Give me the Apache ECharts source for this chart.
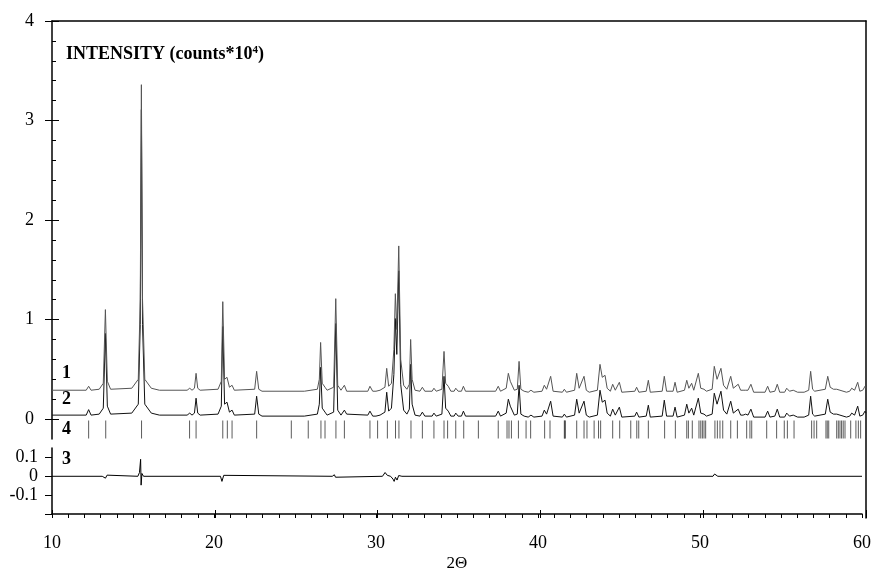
<!DOCTYPE html>
<html>
<head>
<meta charset="utf-8">
<script src="https://cdn.jsdelivr.net/npm/echarts@6/dist/echarts.min.js"></script>
<style>
  html, body { margin: 0; padding: 0; background: #fff; }
  #chart { width: 874px; height: 573px; }
</style>
</head>
<body>
<div id="chart"></div>
<script>
var obsPts = [
  [10, 0.29], [12.1, 0.29], [12.25, 0.33], [12.4, 0.29],
  [12.9, 0.30], [13.15, 0.36], [13.28, 1.10], [13.4, 0.38], [13.6, 0.30],
  [14.9, 0.31], [15.3, 0.40], [15.42, 1.2], [15.49, 3.36], [15.56, 1.2], [15.7, 0.40], [16.1, 0.31],
  [16.6, 0.29], [18.3, 0.29], [18.46, 0.31], [18.6, 0.29], [18.75, 0.31], [18.85, 0.46], [18.95, 0.31], [19.1, 0.29],
  [20.2, 0.30], [20.4, 0.38], [20.49, 1.18], [20.6, 0.40], [20.75, 0.42], [20.9, 0.32], [21.06, 0.34], [21.2, 0.29],
  [22.45, 0.30], [22.57, 0.48], [22.7, 0.30], [22.9, 0.28],
  [25.5, 0.28], [26.3, 0.30], [26.42, 0.40], [26.5, 0.77], [26.6, 0.36], [26.77, 0.32], [26.9, 0.29],
  [27.3, 0.32], [27.43, 1.21], [27.55, 0.34], [27.75, 0.29], [27.96, 0.34], [28.1, 0.28],
  [29.4, 0.28], [29.53, 0.33], [29.7, 0.28], [29.9, 0.28], [30.0, 0.30], [30.15, 0.29],
  [30.45, 0.32], [30.56, 0.51], [30.68, 0.33], [30.85, 0.36], [31.0, 0.70], [31.09, 1.26], [31.18, 0.9], [31.3, 1.74], [31.42, 0.60], [31.6, 0.34], [31.8, 0.30],
  [31.95, 0.35], [32.03, 0.80], [32.12, 0.40], [32.3, 0.29], [32.6, 0.28], [32.75, 0.32], [32.9, 0.28],
  [33.35, 0.28], [33.46, 0.31], [33.6, 0.28], [33.95, 0.30], [34.08, 0.68], [34.18, 0.36], [34.34, 0.33], [34.5, 0.28],
  [34.7, 0.28], [34.8, 0.31], [34.95, 0.28], [35.15, 0.28], [35.27, 0.33], [35.4, 0.28],
  [37.25, 0.28], [37.41, 0.33], [37.55, 0.28], [37.9, 0.31], [38.03, 0.46], [38.15, 0.38], [38.24, 0.36], [38.4, 0.29],
  [38.58, 0.30], [38.69, 0.58], [38.8, 0.30], [39.0, 0.28], [39.12, 0.29], [39.25, 0.27], [39.42, 0.29], [39.6, 0.27],
  [40.1, 0.28], [40.24, 0.34], [40.38, 0.30], [40.63, 0.43], [40.78, 0.28],
  [41.35, 0.27], [41.47, 0.30], [41.6, 0.27], [42.1, 0.29], [42.23, 0.46], [42.38, 0.31], [42.68, 0.43], [42.82, 0.29], [43.0, 0.27],
  [43.5, 0.29], [43.66, 0.55], [43.8, 0.42], [43.97, 0.44], [44.1, 0.31], [44.3, 0.28], [44.44, 0.35], [44.6, 0.29], [44.85, 0.37], [45.0, 0.27],
  [45.8, 0.28], [45.91, 0.32], [46.05, 0.27], [46.5, 0.28], [46.63, 0.39], [46.75, 0.27],
  [47.48, 0.28], [47.61, 0.43], [47.75, 0.28], [48.15, 0.28], [48.27, 0.37], [48.4, 0.27],
  [48.85, 0.29], [48.99, 0.39], [49.12, 0.31], [49.29, 0.36], [49.42, 0.29], [49.7, 0.46], [49.85, 0.31], [50.05, 0.30], [50.2, 0.28],
  [50.55, 0.30], [50.68, 0.53], [50.85, 0.40], [51.09, 0.51], [51.25, 0.34], [51.45, 0.30], [51.69, 0.43], [51.85, 0.31],
  [52.15, 0.35], [52.3, 0.29], [52.45, 0.29], [52.61, 0.29], [52.75, 0.29], [52.93, 0.35], [53.1, 0.27],
  [53.8, 0.27], [53.96, 0.33], [54.1, 0.27], [54.4, 0.28], [54.55, 0.35], [54.7, 0.27], [55.0, 0.27], [55.13, 0.31], [55.3, 0.28], [55.53, 0.29], [55.8, 0.27], [56.2, 0.27],
  [56.48, 0.29], [56.6, 0.48], [56.72, 0.30], [56.85, 0.28], [57.5, 0.30], [57.65, 0.43], [57.8, 0.32], [58.0, 0.30], [58.2, 0.30], [58.4, 0.29],
  [58.8, 0.27], [59.0, 0.28], [59.12, 0.31], [59.3, 0.29], [59.49, 0.37], [59.62, 0.28], [59.8, 0.29], [59.94, 0.33], [60, 0.31]
];

// calculated profile (curve 2)
var calcPts = [
  [10, 0.04], [12.1, 0.04], [12.25, 0.095], [12.4, 0.04],
  [12.9, 0.05], [13.15, 0.11], [13.28, 0.86], [13.4, 0.13], [13.6, 0.05],
  [14.9, 0.06], [15.3, 0.15], [15.42, 0.95], [15.49, 3.11], [15.56, 0.95], [15.7, 0.15], [16.1, 0.06],
  [16.6, 0.04], [18.3, 0.04], [18.46, 0.06], [18.6, 0.04], [18.75, 0.06], [18.85, 0.21], [18.95, 0.06], [19.1, 0.04],
  [20.2, 0.05], [20.4, 0.13], [20.49, 0.93], [20.6, 0.15], [20.75, 0.17], [20.9, 0.07], [21.06, 0.09], [21.2, 0.04],
  [22.45, 0.05], [22.57, 0.23], [22.7, 0.05], [22.9, 0.03],
  [25.5, 0.03], [26.3, 0.05], [26.42, 0.15], [26.5, 0.52], [26.6, 0.11], [26.77, 0.07], [26.9, 0.04],
  [27.3, 0.07], [27.43, 0.96], [27.55, 0.09], [27.75, 0.04], [27.96, 0.09], [28.1, 0.05],
  [29.4, 0.04], [29.53, 0.08], [29.7, 0.03], [29.9, 0.03], [30.0, 0.05], [30.15, 0.04],
  [30.45, 0.07], [30.56, 0.27], [30.68, 0.08], [30.85, 0.11], [31.0, 0.45], [31.09, 1.01], [31.18, 0.65], [31.3, 1.49], [31.42, 0.35], [31.6, 0.09], [31.8, 0.05],
  [31.95, 0.10], [32.03, 0.55], [32.12, 0.15], [32.3, 0.04], [32.6, 0.03], [32.75, 0.07], [32.9, 0.03],
  [33.35, 0.03], [33.46, 0.06], [33.6, 0.03], [33.95, 0.05], [34.08, 0.43], [34.18, 0.11], [34.34, 0.08], [34.5, 0.03],
  [34.7, 0.03], [34.8, 0.06], [34.95, 0.03], [35.15, 0.03], [35.27, 0.08], [35.4, 0.03],
  [37.25, 0.03], [37.41, 0.08], [37.55, 0.03], [37.9, 0.06], [38.03, 0.20], [38.15, 0.13], [38.24, 0.11], [38.4, 0.04],
  [38.58, 0.05], [38.69, 0.34], [38.8, 0.05], [39.0, 0.03], [39.12, 0.04], [39.25, 0.02], [39.42, 0.04], [39.6, 0.02],
  [40.1, 0.03], [40.24, 0.09], [40.38, 0.05], [40.63, 0.18], [40.78, 0.03],
  [41.35, 0.02], [41.47, 0.05], [41.6, 0.02], [42.1, 0.04], [42.23, 0.20], [42.38, 0.06], [42.68, 0.18], [42.82, 0.04], [43.0, 0.02],
  [43.5, 0.04], [43.66, 0.29], [43.8, 0.17], [43.97, 0.19], [44.1, 0.06], [44.3, 0.03], [44.44, 0.10], [44.6, 0.04], [44.85, 0.12], [45.0, 0.02],
  [45.8, 0.03], [45.91, 0.07], [46.05, 0.02], [46.5, 0.03], [46.63, 0.14], [46.75, 0.02],
  [47.48, 0.03], [47.61, 0.19], [47.75, 0.03], [48.15, 0.03], [48.27, 0.12], [48.4, 0.02],
  [48.85, 0.04], [48.99, 0.15], [49.12, 0.06], [49.29, 0.11], [49.42, 0.04], [49.7, 0.21], [49.85, 0.06], [50.05, 0.05], [50.2, 0.03],
  [50.55, 0.05], [50.68, 0.26], [50.85, 0.15], [51.09, 0.28], [51.25, 0.09], [51.45, 0.05], [51.69, 0.18], [51.85, 0.06],
  [52.15, 0.10], [52.3, 0.04], [52.45, 0.04], [52.61, 0.05], [52.75, 0.04], [52.93, 0.10], [53.1, 0.02],
  [53.8, 0.02], [53.96, 0.08], [54.1, 0.02], [54.4, 0.03], [54.55, 0.10], [54.7, 0.02], [55.0, 0.02], [55.13, 0.06], [55.3, 0.03], [55.53, 0.04], [55.8, 0.02], [56.2, 0.02],
  [56.48, 0.04], [56.6, 0.23], [56.72, 0.05], [56.85, 0.03], [57.5, 0.05], [57.65, 0.20], [57.8, 0.07], [58.0, 0.05], [58.2, 0.05], [58.4, 0.04],
  [58.8, 0.02], [59.0, 0.03], [59.12, 0.06], [59.3, 0.04], [59.49, 0.13], [59.62, 0.03], [59.8, 0.04], [59.94, 0.08], [60, 0.06]
];

// difference curve (curve 3)
var diffPts = [
  [10, 0], [13.1, 0], [13.2, 0.008], [13.3, -0.01], [13.4, 0.006], [13.5, 0],
  [15.3, 0], [15.4, 0.02], [15.47, 0.09], [15.5, -0.047], [15.55, 0.015], [15.65, 0],
  [20.4, 0], [20.49, -0.027], [20.6, 0.005], [20.7, 0],
  [27.3, 0], [27.43, 0.008], [27.5, -0.005], [27.6, 0],
  [30.4, 0], [30.56, 0.02], [30.7, 0.005], [30.9, 0], [31.05, -0.015], [31.12, -0.027], [31.2, -0.005], [31.3, -0.02], [31.4, 0.004], [31.6, 0],
  [50.8, 0], [50.9, 0.012], [51.0, 0.005], [51.1, 0], [60, 0]
];

// Bragg reflection positions (row 4)
var braggPos = [
  12.25, 13.3, 15.5, 18.45, 18.85, 20.49, 20.77, 21.06, 22.57, 24.7, 25.74, 26.52, 26.77, 27.44, 27.96,
  29.53, 30.0, 30.6, 31.1, 31.31, 32.05, 32.75, 33.46, 34.08, 34.3, 34.8, 35.29, 36.19, 37.41, 37.95,
  38.07, 38.22, 38.65, 39.12, 39.4, 40.26, 40.59, 41.47, 41.5, 41.53, 42.23, 42.68, 42.86, 43.3, 43.57,
  43.7, 44.44, 44.87, 45.55, 45.92, 46.04, 46.63, 47.63, 48.29, 48.99, 49.09, 49.33, 49.74, 49.85, 49.95,
  50.05, 50.15, 50.72, 50.87, 51.03, 51.2, 51.69, 52.1, 52.67, 52.87, 52.98, 53.9, 54.51, 54.98, 55.17,
  55.58, 56.66, 56.81, 56.97, 57.54, 57.62, 57.71, 58.2, 58.3, 58.4, 58.5, 58.6, 58.71, 59.06, 59.38,
  59.53, 59.67
];
var braggRowY = -0.105;

// tick values
var mainLabels = [0, 1, 2, 3, 4];
var mainMinor = [0.2, 0.4, 0.6, 0.8, 1.2, 1.4, 1.6, 1.8, 2.2, 2.4, 2.6, 2.8, 3.2, 3.4, 3.6, 3.8];
var diffLabels = [-0.1, 0, 0.1];
var diffTicks = [-0.2, -0.1, 0, 0.1];

var FONT = "'Liberation Serif', 'DejaVu Serif', serif";

var chart = echarts.init(document.getElementById('chart'), null, { renderer: 'canvas' });

var option = {
  animation: false,
  backgroundColor: '#fff',
  title: {
    text: '{b|INTENSITY (counts*10}{s|4}{b|)}',
    left: 61,
    top: 40,
    textStyle: {
      rich: {
        b: { fontFamily: FONT, fontWeight: 'bold', fontSize: 18, color: '#000' },
        s: { fontFamily: FONT, fontWeight: 'bold', fontSize: 11, color: '#000', verticalAlign: 'top', padding: [0, 0, 8, 0] }
      }
    }
  },
  grid: [
    { left: 52, right: 8, top: 21, height: 418 },
    { left: 52, right: 8, top: 448, bottom: 55 },
    { left: 52, right: 8, top: 21, bottom: 55 }
  ],
  xAxis: [
    { gridIndex: 0, type: 'value', min: 10, max: 60, show: false },
    {
      // bottom axis: line, labels, short outside ticks
      gridIndex: 1, type: 'value', min: 10, max: 60, interval: 10, position: 'bottom',
      name: '2\u0398', nameLocation: 'middle', nameGap: 41,
      nameTextStyle: { fontFamily: FONT, fontSize: 17, color: '#000' },
      axisLine: { onZero: false, lineStyle: { color: '#000', width: 1.5 } },
      axisTick: { show: true, inside: false, length: 4, lineStyle: { color: '#000', width: 1 } },
      minorTick: { show: true, splitNumber: 10, length: 4, lineStyle: { color: '#000', width: 1 } },
      axisLabel: { margin: 20, fontFamily: FONT, fontSize: 18, color: '#000' },
      splitLine: { show: false }
    },
    {
      // frame top line
      gridIndex: 2, type: 'value', min: 10, max: 60, position: 'top',
      axisLine: { onZero: false, lineStyle: { color: '#000', width: 1.5 } },
      axisTick: { show: false }, axisLabel: { show: false }, splitLine: { show: false }
    },
    {
      // longer inward ticks at every 10 degrees
      gridIndex: 2, type: 'value', min: 10, max: 60, interval: 10, position: 'bottom',
      axisLine: { show: false, onZero: false },
      axisTick: { show: true, inside: true, length: 8, lineStyle: { color: '#000', width: 1 } },
      axisLabel: { show: false }, splitLine: { show: false }
    }
  ],
  yAxis: [
    {
      gridIndex: 0, type: 'value', min: -0.2, max: 4, position: 'left',
      axisLine: { show: true, onZero: false, lineStyle: { color: '#000', width: 1.5 } },
      axisTick: { customValues: mainLabels, length: 7, lineStyle: { color: '#000' } },
      axisLabel: { customValues: mainLabels, margin: 18, fontFamily: FONT, fontSize: 18, color: '#000' },
      splitLine: { show: false }
    },
    {
      gridIndex: 0, type: 'value', min: -0.2, max: 4, position: 'left',
      axisLine: { show: false, onZero: false }, axisLabel: { show: false }, splitLine: { show: false },
      axisTick: { inside: true, customValues: mainLabels, length: 7, lineStyle: { color: '#000' } }
    },
    {
      gridIndex: 0, type: 'value', min: -0.2, max: 4, position: 'left',
      axisLine: { show: false, onZero: false }, axisLabel: { show: false }, splitLine: { show: false },
      axisTick: { inside: true, customValues: mainMinor, length: 4, lineStyle: { color: '#000' } }
    },
    {
      gridIndex: 1, type: 'value', min: -0.2, max: 0.15, position: 'left',
      axisLine: { show: true, onZero: false, lineStyle: { color: '#000', width: 1.5 } },
      axisTick: { customValues: diffTicks, length: 7, lineStyle: { color: '#000' } },
      axisLabel: { customValues: diffLabels, margin: 14, fontFamily: FONT, fontSize: 18, color: '#000' },
      splitLine: { show: false }
    },
    {
      gridIndex: 2, type: 'value', min: 0, max: 1, position: 'right',
      axisLine: { show: true, onZero: false, lineStyle: { color: '#000', width: 1.5 } },
      axisTick: { show: false }, axisLabel: { show: false }, splitLine: { show: false }
    }
  ],
  graphic: [
    { type: 'text', left: 62, top: 364, style: { text: '1', font: 'bold 18px ' + FONT, fill: '#000' } },
    { type: 'text', left: 62, top: 390, style: { text: '2', font: 'bold 18px ' + FONT, fill: '#000' } },
    { type: 'text', left: 62, top: 420, style: { text: '4', font: 'bold 18px ' + FONT, fill: '#000' } },
    { type: 'text', left: 62, top: 450, style: { text: '3', font: 'bold 18px ' + FONT, fill: '#000' } }
  ],
  series: [
    {
      name: 'calc', type: 'line', xAxisIndex: 0, yAxisIndex: 0,
      data: calcPts, showSymbol: false, symbol: 'none',
      lineStyle: { color: '#111', width: 1 }
    },
    {
      name: 'obs', type: 'line', xAxisIndex: 0, yAxisIndex: 0,
      data: obsPts, showSymbol: false, symbol: 'none',
      lineStyle: { color: '#555', width: 1 }
    },
    {
      name: 'bragg', type: 'scatter', xAxisIndex: 0, yAxisIndex: 0,
      data: braggPos.map(function (p) { return [p, braggRowY]; }),
      symbol: 'rect', symbolSize: [1, 18],
      itemStyle: { color: '#333' }
    },
    {
      name: 'diff', type: 'line', xAxisIndex: 1, yAxisIndex: 3,
      data: diffPts, showSymbol: false, symbol: 'none',
      lineStyle: { color: '#000', width: 1 }
    }
  ]
};

chart.setOption(option);
</script>
</body>
</html>
